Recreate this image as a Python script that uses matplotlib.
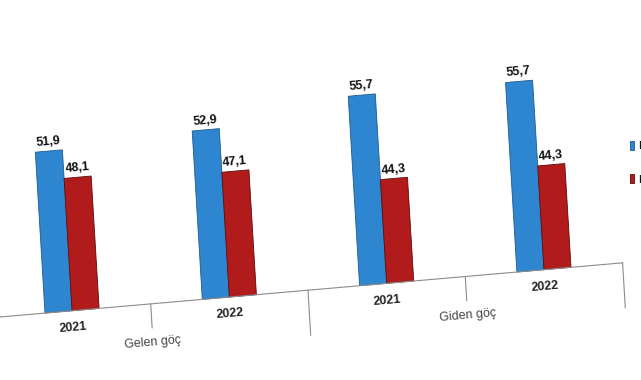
import matplotlib
matplotlib.use("Agg")
import matplotlib.pyplot as plt
import numpy as np
from matplotlib.transforms import Affine2D, offset_copy

# data
groups = ["Gelen göç", "Giden göç"]
years = ["2021", "2022", "2021", "2022"]
erkek = [51.9, 52.9, 55.7, 55.7]
kadin = [48.1, 47.1, 44.3, 44.3]
series = ["Erkek", "Kadın"]

BLUE = "#2f86d0"
RED = "#b21b1b"
W, H = 641, 380
base_y = 63          # baseline height in pixels at the left edge
ax_h = 221.8         # axes height in pixels
ymin, ymax = 30.5, 60

fig = plt.figure(figsize=(W / 100, H / 100), dpi=100)
ax = fig.add_axes([-6.6 / W, base_y / H, 629.2 / W, ax_h / H])
ax.axis("off")

# the picture is a slanted (pseudo-3D) view: shear everything in display space
kx, ky = -0.06, 0.087
skew = Affine2D(np.array([[1, kx, -kx * base_y], [ky, 1, 0], [0, 0, 1]]))
t_data = ax.transData + skew
t_xax = ax.get_xaxis_transform() + skew

x = np.arange(len(years))
w = 0.172
b1 = ax.bar(x - w / 2, np.array(erkek) - ymin, w, bottom=ymin, color=BLUE,
            edgecolor="#1d5a92", linewidth=0.6, label=series[0])
b2 = ax.bar(x + w / 2, np.array(kadin) - ymin, w, bottom=ymin, color=RED,
            edgecolor="#5e0c0c", linewidth=0.6, label=series[1])
for p in list(b1) + list(b2):
    p.set_transform(t_data)
    p.set_clip_on(False)
ax.set_xlim(-0.5, 3.5)
ax.set_ylim(ymin, ymax)

font = ["Liberation Sans Narrow", "Liberation Sans", "DejaVu Sans"]
t_lab = offset_copy(t_data, fig, y=3, units="dots")
for xi, e, k in zip(x, erkek, kadin):
    for xx, v in ((xi - w / 2, e), (xi + w / 2, k)):
        ax.text(xx, v, f"{v:.1f}".replace(".", ","), transform=t_lab,
                ha="center", va="bottom", rotation=5, rotation_mode="anchor",
                fontsize=9, fontweight="bold", family=font, color="#111111")

# category axis
ax.plot([-0.5, 3.5], [0, 0], transform=t_xax, color="#8c8c8c", lw=0.8,
        clip_on=False)
for bnd in np.arange(-0.5, 4.0, 1.0):
    long_tick = int(bnd + 0.5) % 2 == 0
    L = 45 if long_tick else 24
    ax.plot([bnd, bnd], [0, -L / ax_h], transform=t_xax, color="#8c8c8c",
            lw=0.8, clip_on=False)
for xi, yr in zip(x, years):
    ax.text(xi, -17 / ax_h, yr, transform=t_xax, ha="center", va="center",
            rotation=5, rotation_mode="anchor", fontsize=9, fontweight="bold",
            family=font, color="#222222")
for gi, g in enumerate(groups):
    ax.text(gi * 2 + 0.5, -39 / ax_h, g, transform=t_xax, ha="center",
            va="center", rotation=5, rotation_mode="anchor", fontsize=9,
            family=font, color="#444444")

fig.legend(handles=[b1, b2], labels=series, loc="upper left",
           bbox_to_anchor=(630 / W, 1 - 141 / H), frameon=False, fontsize=8,
           handlelength=0.4, handleheight=0.9, handletextpad=0.3,
           labelspacing=2.05, borderpad=0, borderaxespad=0,
           prop={"family": font, "size": 8})

fig.savefig("out.png", dpi=100)
